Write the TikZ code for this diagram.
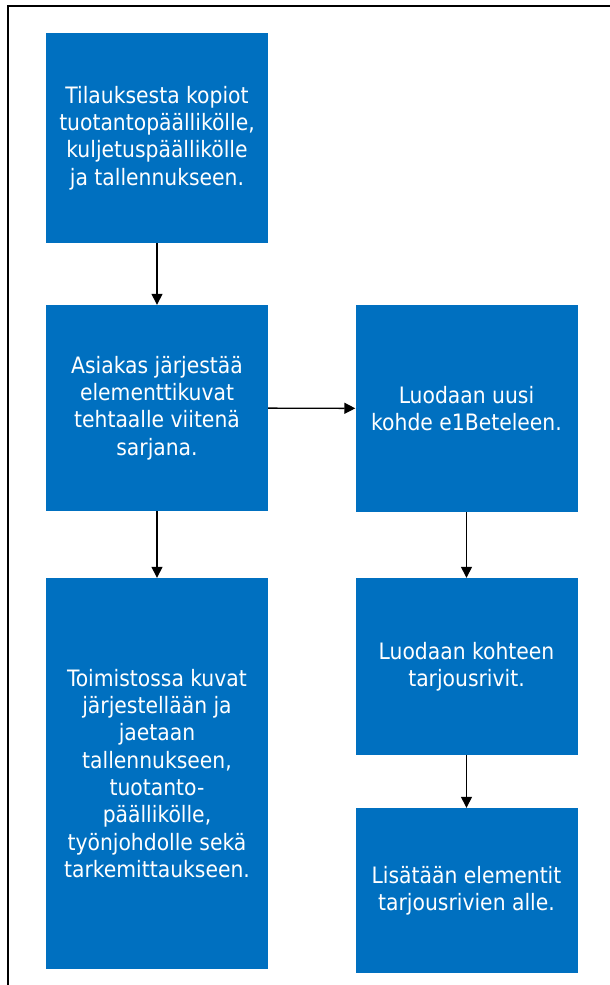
\documentclass[tikz,border=0pt]{standalone}
\usepackage{fontspec}
\setmainfont{DejaVu Sans Condensed}
\usepackage{tikz}
\usetikzlibrary{arrows.meta}
\definecolor{vaihe}{HTML}{0070C0}
\tikzset{
  laatikko/.style={rectangle,fill=vaihe,text=white,align=center,inner sep=0pt,
    minimum width=222pt,font=\fontsize{22.6}{27.3}\selectfont},
  nuoli/.style={-{Triangle[length=11pt,width=11pt]},line width=1.4pt}
}

\begin{document}
\begin{tikzpicture}[x=1pt,y=-1pt]
  \useasboundingbox (0,0) rectangle (610,985);
  \draw[line width=2pt] (8,985) -- (8,6) -- (610,6);

  \draw (157,138) node[laatikko,minimum height=210pt] (tilaus) {Tilauksesta kopiot\\tuotantopäällikölle,\\kuljetuspäällikölle\\ja tallennukseen.};
  \draw (157,408) node[laatikko,minimum height=206pt] (asiakas) {Asiakas järjestää\\elementtikuvat\\tehtaalle viitenä\\sarjana.};
      \draw (157,773.5) node[laatikko,minimum height=391pt] (toimisto) {Toimistossa kuvat\\järjestellään ja\\jaetaan\\tallennukseen,\\tuotanto-\\päällikölle,\\työnjohdolle sekä\\tarkemittaukseen.};
  \draw (466.5,408.5) node[laatikko,minimum height=207pt] (kohde) {Luodaan uusi\\kohde e1Beteleen.};
      \draw (466.5,666.5) node[laatikko,minimum height=177pt] (rivit) {Luodaan kohteen\\tarjousrivit.};
	\draw (466.5,890.5) node[laatikko,minimum height=165pt] (elementit) {Lisätään elementit\\tarjousrivien alle.};

    \draw[nuoli] (tilaus) -- (asiakas);
    \draw[nuoli] (asiakas) -- (toimisto);
      \draw[nuoli] (asiakas) -- (kohde);
       \draw[nuoli] (kohde) -- (rivit);
       \draw[nuoli] (rivit) -- (elementit);

\end{tikzpicture}
\end{document}
